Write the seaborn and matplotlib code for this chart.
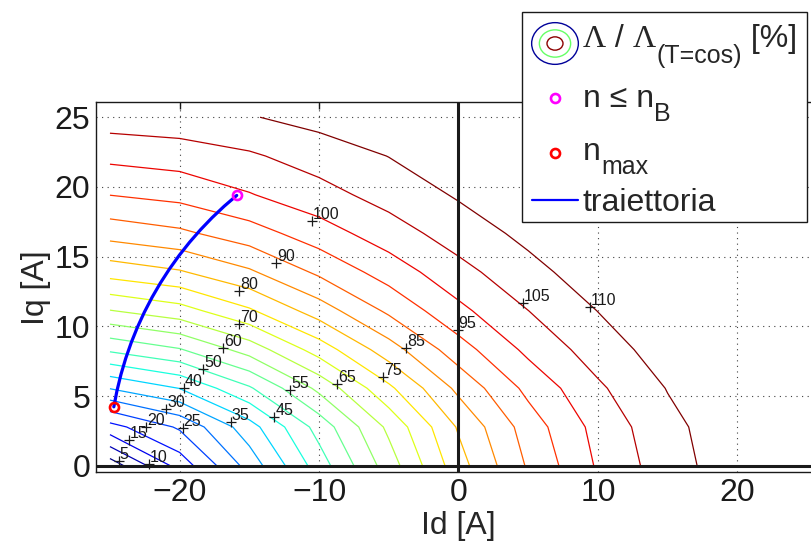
import numpy as np
import pandas as pd
import matplotlib
matplotlib.use("Agg")
import matplotlib.pyplot as plt
import seaborn as sns
from matplotlib.patches import Ellipse, Rectangle
from matplotlib.lines import Line2D

# d- and q-axis current grid of the flux map [A]
id_nodes = [-25, -20, -15, -10, -5, 0, 5, 10, 15, 20, 25]
iq_nodes = [0.0, 2.78, 5.56, 8.33, 11.11, 13.89, 16.67, 19.44, 22.22, 25.0]

# unsaturated flux components at the grid nodes [%]
psi_d = [2.0, 17.0, 32.0, 47.5, 62.5, 78.0, 93.0, 108.0, 123.5, 138.5, 154.0]
psi_q = [0.0, 18.0, 35.1, 50.8, 64.7, 77.0, 88.6, 99.7, 109.5, 123.0]

# iron saturation characteristic: linear flux -> actual flux [%]
sat_psi = [0.0, 78.0, 93.0, 108.0, 123.5, 138.5, 154.0, 210.0]
sat_lam = [0.0, 78.0, 90.6, 100.6, 107.8, 113.0, 116.0, 123.0]
combine_exp = 1.8

levels = list(range(5, 111, 5))

# where each contour value is written
label_id = [-24.35, -22.2, -23.6, -22.4, -19.76, -20.95, -16.31, -19.66, -13.2, -18.29, -12.07,
            -16.86, -8.7, -15.71, -5.38, -15.71, -3.75, -13.08, -0.05, -10.5, 4.61, 9.45]
label_iq = [0.35, 0.1, 1.84, 2.78, 2.68, 4.05, 3.16, 5.55, 3.52, 6.91, 5.43,
            8.42, 5.86, 10.14, 6.34, 12.53, 8.47, 14.52, 9.73, 17.55, 11.65, 11.36]

# operating trajectory along the current limit, from n_max up to n <= n_B
traj_id = [-24.721, -24.492, -24.207, -23.867, -23.473, -23.026, -22.526, -21.976,
           -21.375, -20.724, -20.027, -19.284, -18.495, -17.672, -16.805, -15.908]
traj_iq = [4.226, 5.399, 6.559, 7.705, 8.833, 9.941, 11.026, 12.086,
           13.119, 14.126, 15.097, 16.037, 16.939, 17.796, 18.617, 19.390]

xticks = [-20, -10, 0, 10, 20]
yticks = [0, 5, 10, 15, 20, 25]

sns.set_theme(style="white")
plt.rcParams["font.family"] = ["Liberation Sans", "DejaVu Sans"]

W, H = 812, 547
fig = plt.figure(figsize=(W / 100, H / 100), dpi=100)
ax = fig.add_axes([96 / W, (H - 472.3) / H, 725 / W, 370 / H])

# flux map on the current grid
pd_ = np.asarray(psi_d)[None, :]
pq_ = np.asarray(psi_q)[:, None]
psi = (pd_ ** combine_exp + pq_ ** combine_exp) ** (1.0 / combine_exp)
Z = np.interp(psi, sat_psi, sat_lam)

ax.contour(id_nodes, iq_nodes, Z, levels=levels, cmap="jet", linewidths=0.9, zorder=2)

# contour values, MATLAB clabel style
ax.plot(label_id, label_iq, "+", color="k", ms=7, mew=0.9, zorder=4)
for lx, ly, lv in zip(label_id, label_iq, levels):
    ax.annotate(str(lv), (lx, ly), xytext=(0.5, 1.5), textcoords="offset points",
                fontsize=11.5, ha="left", va="baseline", color="k", zorder=5)

ax.axhline(0, color="k", lw=2.2, zorder=3)
ax.axvline(0, color="k", lw=2.2, zorder=3)

traj = pd.DataFrame({"Id": traj_id, "Iq": traj_iq})
sns.lineplot(data=traj, x="Id", y="Iq", sort=False, estimator=None,
             color=(0, 0, 1), linewidth=2.3, ax=ax, zorder=6)
ax.plot(traj_id[-1], traj_iq[-1], "o", ms=6.5, mfc="none", mec=(1, 0, 1), mew=1.9, zorder=7)
ax.plot(traj_id[0], traj_iq[0], "o", ms=6.5, mfc="none", mec=(1, 0, 0), mew=1.9, zorder=7)

ax.set_xlim(-26.0, 26.0)
ax.set_ylim(-0.47, 26.07)
ax.set_xticks(xticks)
ax.set_yticks(yticks)
ax.grid(True, color="0.25", lw=0.8, linestyle=(0, (1, 4)))
ax.set_axisbelow(True)
ax.tick_params(direction="in", top=True, right=True, length=5, width=1,
               labelsize=23, pad=4, colors="k")
for s in ax.spines.values():
    s.set_color("k")
    s.set_linewidth(1.0)
ax.set_xlabel("Id [A]", fontsize=23, labelpad=2)
ax.set_ylabel("Iq [A]", fontsize=23, labelpad=3)

# legend box drawn in figure pixels
def fx(x):
    return x / W

def fy(y):
    return 1 - y / H

renderer = fig.canvas.get_renderer()

def put_text(x, base, s, size, family="Liberation Sans"):
    t = fig.text(fx(x), fy(base), s, fontsize=size, family=family,
                 ha="left", va="baseline", zorder=12)
    return t.get_window_extent(renderer).x1

fig.add_artist(Rectangle((fx(522.5), fy(221.7)), (806.7 - 522.5) / W, (221.7 - 12.3) / H,
                         transform=fig.transFigure, facecolor="white", edgecolor="k",
                         lw=1.0, zorder=10))

for (ew, eh, ec) in [(46.7, 41.7, (0, 0, 0.6)), (31.3, 27.3, (0.4, 1, 0.4)), (16.0, 13.3, (0.55, 0, 0))]:
    fig.add_artist(Ellipse((fx(555), fy(43.5)), ew / W, eh / H, transform=fig.transFigure,
                           facecolor="none", edgecolor=ec, lw=1.0, zorder=11))

x = put_text(583, 47, "\u039b", 23, "Liberation Serif")
x = put_text(x, 47, " / ", 23)
x = put_text(x, 47, "\u039b", 23, "Liberation Serif")
x = put_text(x, 63, "(T=cos)", 18)
put_text(x, 47, " [%]", 23)

fig.add_artist(Line2D([fx(555)], [fy(98.3)], transform=fig.transFigure, marker="o", ms=6.5,
                      mfc="none", mec=(1, 0, 1), mew=1.9, ls="none", zorder=11))
x = put_text(583, 107, "n \u2264 n", 23)
put_text(x, 121, "B", 18)

fig.add_artist(Line2D([fx(555)], [fy(153.3)], transform=fig.transFigure, marker="o", ms=6.5,
                      mfc="none", mec=(1, 0, 0), mew=1.9, ls="none", zorder=11))
x = put_text(583, 160, "n", 23)
put_text(x, 174, "max", 18)

fig.add_artist(Line2D([fx(531.7), fx(578)], [fy(200), fy(200)], transform=fig.transFigure,
                      color=(0, 0, 1), lw=1.6, zorder=11))
put_text(583, 211, "traiettoria", 23)

fig.savefig("out.png", dpi=100)
